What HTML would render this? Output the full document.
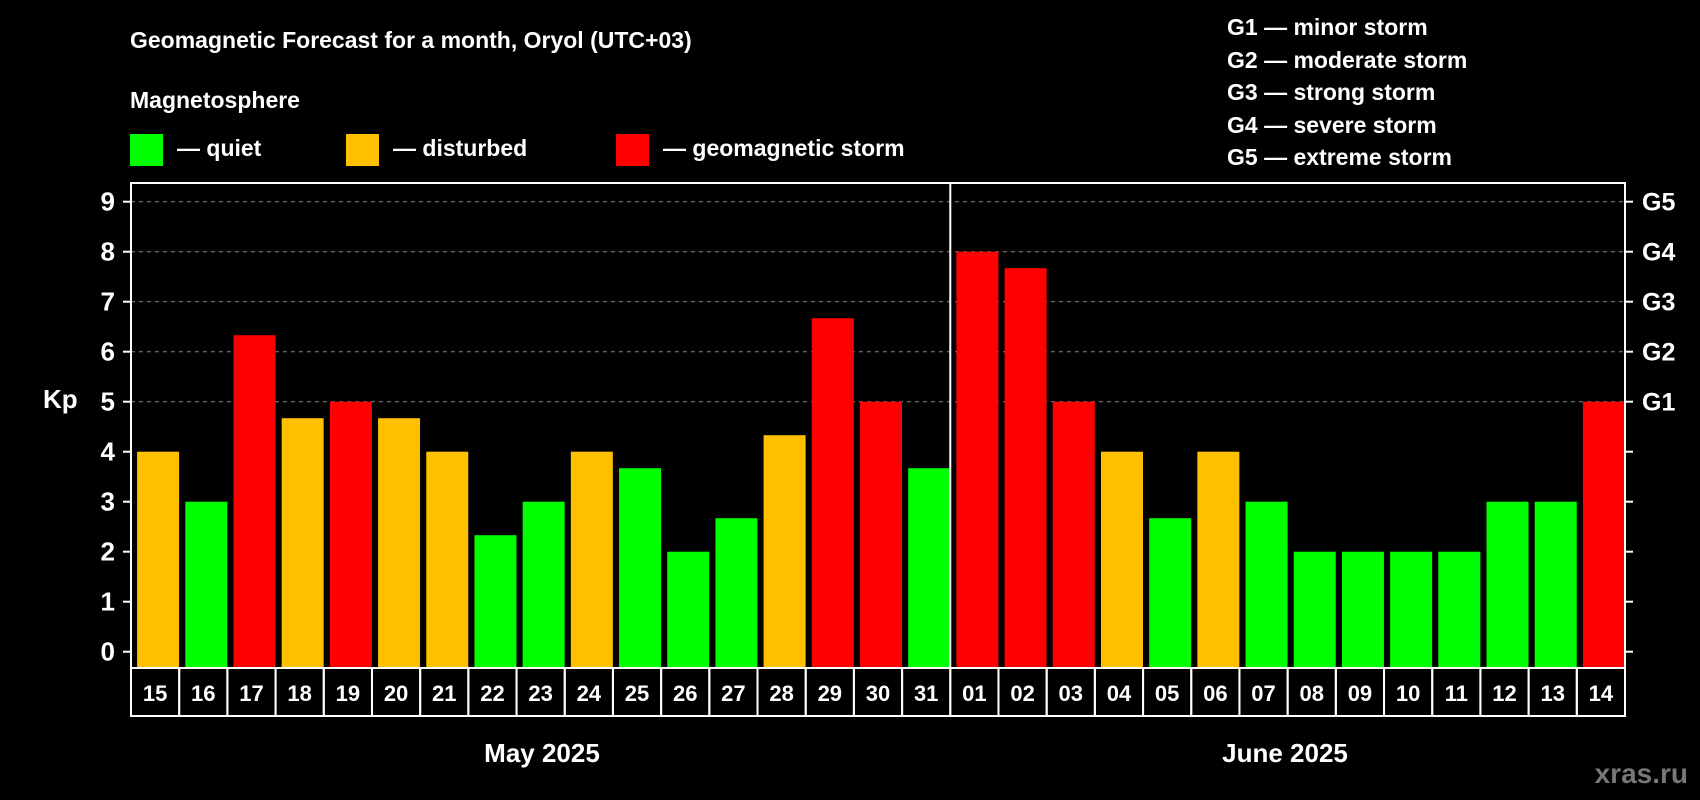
<!DOCTYPE html>
<html><head><meta charset="utf-8"><style>
body{margin:0;background:#000;width:1700px;height:800px;overflow:hidden}
svg{display:block;font-family:"Liberation Sans",Arial,sans-serif;font-weight:bold}
</style></head><body>
<svg id="chart" width="1700" height="800" viewBox="0 0 1700 800">
<rect width="1700" height="800" fill="#000"/>
<text x="130" y="48" fill="#fff" font-size="23">Geomagnetic Forecast for a month, Oryol (UTC+03)</text>
<text x="130" y="108" fill="#fff" font-size="23">Magnetosphere</text>
<g><rect x="130" y="134" width="33" height="32" fill="#00ff00"/><text x="177" y="156" fill="#fff" font-size="23">— quiet</text></g>
<g><rect x="346" y="134" width="33" height="32" fill="#ffc000"/><text x="393" y="156" fill="#fff" font-size="23">— disturbed</text></g>
<g><rect x="616" y="134" width="33" height="32" fill="#ff0000"/><text x="663" y="156" fill="#fff" font-size="23">— geomagnetic storm</text></g>
<g fill="#fff" font-size="23">
<text x="1227" y="35">G1 — minor storm</text>
<text x="1227" y="68">G2 — moderate storm</text>
<text x="1227" y="100">G3 — strong storm</text>
<text x="1227" y="133">G4 — severe storm</text>
<text x="1227" y="165">G5 — extreme storm</text>
</g>
<text x="43" y="408" fill="#fff" font-size="26">Kp</text>
<g id="grid"></g><g id="bars"></g><g id="axes"></g>
<text x="542" y="762" fill="#fff" font-size="26" text-anchor="middle">May 2025</text>
<text x="1285" y="762" fill="#fff" font-size="26" text-anchor="middle">June 2025</text>
<text x="1688" y="783" fill="#777" font-size="28" text-anchor="end">xras.ru</text>
</svg>
<script>
const days = ["15","16","17","18","19","20","21","22","23","24","25","26","27","28","29","30","31","01","02","03","04","05","06","07","08","09","10","11","12","13","14"];
const kpValues = [4,3,6.33,4.67,5,4.67,4,2.33,3,4,3.67,2,2.67,4.33,6.67,5,3.67,8,7.67,5,4,2.67,4,3,2,2,2,2,3,3,5];
const yTicks = [0,1,2,3,4,5,6,7,8,9];
const gLevels = [5,6,7,8,9];
const gLabels = ["G1","G2","G3","G4","G5"];
const NS="http://www.w3.org/2000/svg";
const L=131,R=1625,T=183,B=668;
const y=v=>651.7-v*50;
const xc=i=>L+(R-L)/days.length*(i+0.5)+3;
function mk(t,a,p){const e=document.createElementNS(NS,t);for(const k in a)e.setAttribute(k,a[k]);p.appendChild(e);return e;}
const grid=document.getElementById('grid'),bars=document.getElementById('bars'),axes=document.getElementById('axes');
gLevels.forEach((v,i)=>{
 const ln=mk('line',{x1:L,x2:R,y1:y(v),y2:y(v),stroke:'#888','stroke-dasharray':'4,4','stroke-width':1},grid);
 
 
 const t=mk('text',{x:1642,y:y(v)+9,fill:'#fff','font-size':25},axes);t.textContent=gLabels[i];
 
 
});
kpValues.forEach((v,i)=>{
 const c=v>=5?'#ff0000':(v>=4?'#ffc000':'#00ff00');
 const r=mk('rect',{x:xc(i)-21,y:y(v),width:42,height:B-y(v),fill:c},bars);
 
 
 const bx=mk('rect',{x:L+(R-L)/days.length*i,y:B,width:(R-L)/days.length,height:48,fill:'none',stroke:'#fff','stroke-width':2},axes);
 
 
 const t=mk('text',{x:L+(R-L)/days.length*(i+0.5),y:B+33,fill:'#fff','font-size':22,'text-anchor':'middle'},axes);t.textContent=days[i];
 
 
});
yTicks.forEach(v=>{
 mk('line',{x1:123,x2:L,y1:y(v),y2:y(v),stroke:'#fff','stroke-width':2},axes);
 mk('line',{x1:R,x2:1633,y1:y(v),y2:y(v),stroke:'#fff','stroke-width':2},axes);
 const t=mk('text',{x:115,y:y(v)+9,fill:'#fff','font-size':26,'text-anchor':'end'},axes);t.textContent=v;
 
 
});
const fr=mk('rect',{x:L,y:T,width:R-L,height:B-T,fill:'none',stroke:'#fff','stroke-width':2},axes);


const dv=(L+(R-L)/days.length*17);
const d=mk('line',{x1:dv,x2:dv,y1:T,y2:B,stroke:'#fff','stroke-width':2},axes);


</script>
</body></html>
